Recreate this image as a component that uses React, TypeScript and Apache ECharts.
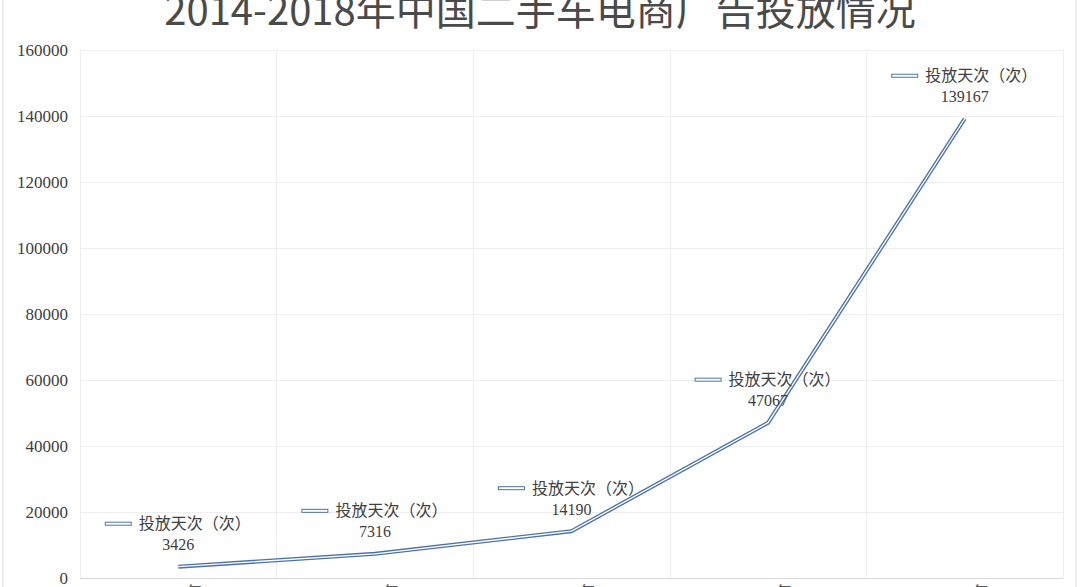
import { useEffect, useRef } from 'react'
import * as echarts from 'echarts'

const years = ['2014年', '2015年', '2016年', '2017年', '2018年']
const adDays = [3426, 7316, 14190, 47067, 139167]
const yTicks = { min: 0, max: 160000, interval: 20000 }
const seriesName = '投放天次（次）'
const titleText = '2014-2018年中国二手车电商广告投放情况'

const SERIF = '"Liberation Serif", "Noto Sans CJK SC", serif'
const LINE_BLUE = '#4C72AE'

export default function App() {
  const ref = useRef<HTMLDivElement>(null)

  useEffect(() => {
    document.body.style.margin = '0'
    if (!ref.current) {
      return
    }
    const chart = echarts.init(ref.current, undefined, { renderer: 'svg' })

    chart.setOption({
      animation: false,
      backgroundColor: '#fff',
      title: {
        text: titleText,
        left: 'center',
        top: -17,
        textStyle: {
          fontSize: 40,
          fontWeight: 'normal',
          color: '#4A4A4A',
          fontFamily: '"Noto Sans CJK SC", sans-serif',
        },
      },
      graphic: [
        {
          type: 'rect',
          shape: { x: 3, y: -10, width: 1073, height: 700 },
          style: { fill: 'none', stroke: '#D9D9D9', lineWidth: 1 },
          silent: true,
        },
      ],
      grid: { left: 80, right: 17, top: 50, bottom: 22 },
      xAxis: {
        type: 'category',
        data: years,
        boundaryGap: true,
        axisLine: { lineStyle: { color: '#D9D9D9' } },
        axisTick: { show: false },
        axisLabel: { margin: 6, fontSize: 16, color: '#595959', fontFamily: SERIF },
        splitLine: { show: true, lineStyle: { color: '#EEEEEE' } },
      },
      yAxis: {
        type: 'value',
        ...yTicks,
        axisLine: { show: false },
        axisTick: { show: false },
        axisLabel: {
          margin: 12,
          fontSize: 17,
          color: '#404040',
          fontFamily: SERIF,
          formatter: (v: number) => String(v),
        },
        splitLine: { lineStyle: { color: '#EEEEEE' } },
      },
      series: [
        {
          name: seriesName,
          type: 'line',
          data: adDays,
          symbol: 'none',
          silent: true,
          lineStyle: { color: LINE_BLUE, width: 4 },
          z: 2,
        },
        {
          name: seriesName,
          type: 'line',
          data: adDays,
          symbol: 'circle',
          symbolSize: 1,
          itemStyle: { color: 'rgba(0,0,0,0)' },
          lineStyle: { color: '#ffffff', width: 1.3 },
          z: 3,
          label: {
            show: true,
            position: 'top',
            distance: 11,
            formatter: (p: { value: number }) => `{k|}{t|  ${seriesName}}\n{v|${p.value}}`,
            rich: {
              k: {
                width: 25,
                height: 2,
                borderWidth: 1,
                borderColor: LINE_BLUE,
                backgroundColor: '#fff',
              },
              t: { fontSize: 16, lineHeight: 21, color: '#404040', fontFamily: SERIF },
              v: { fontSize: 16, lineHeight: 21, color: '#404040', fontFamily: SERIF },
            },
          },
        },
      ],
    })

    return () => {
      chart.dispose()
    }
  }, [])

  return (
    <div style={{ width: 1080, height: 587, overflow: 'hidden' }}>
      <div ref={ref} style={{ width: 1080, height: 600 }} />
    </div>
  )
}
